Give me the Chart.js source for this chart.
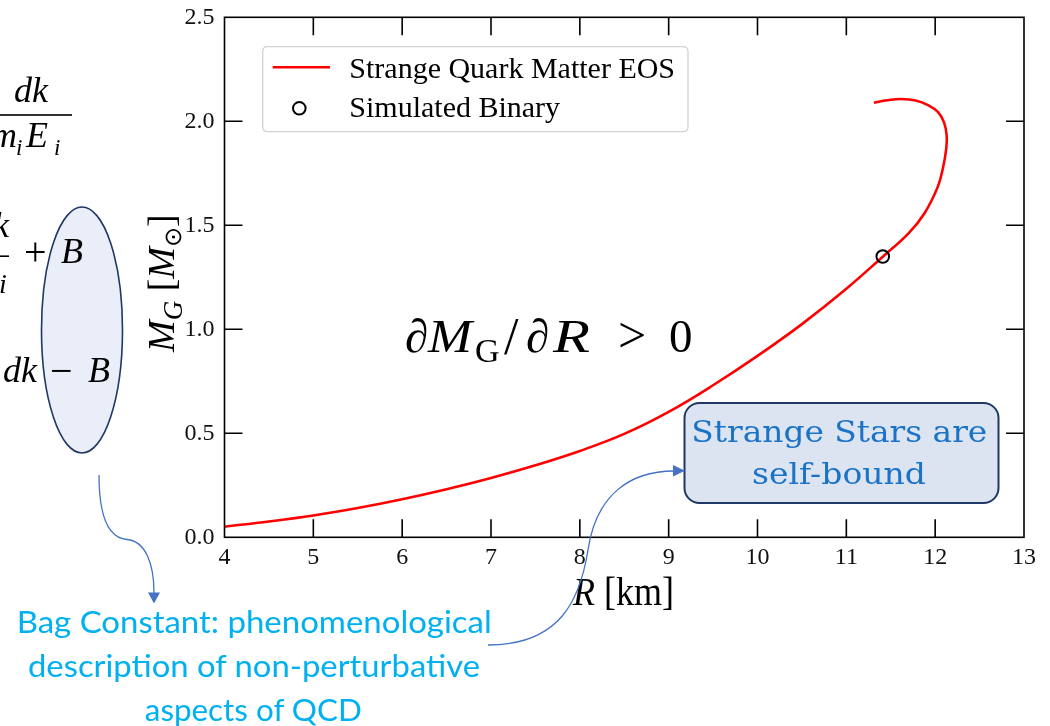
<!DOCTYPE html>
<html>
<head>
<meta charset="utf-8">
<title>Strange star mass-radius relation</title>
<script src="https://cdn.jsdelivr.net/npm/chart.js@4.4.1/dist/chart.umd.min.js"></script>
<style>
  html, body { margin: 0; padding: 0; background: #ffffff; }
  #wrap { position: relative; width: 1050px; height: 726px; overflow: hidden; background: #ffffff; }
  #chart { position: absolute; left: 0; top: 0; }
  #notes { position: absolute; left: 0; top: 0; }
</style>
</head>
<body>
<div id="wrap">
  <canvas id="chart" width="1050" height="726"></canvas>
  <svg id="notes" width="1050" height="726" xmlns="http://www.w3.org/2000/svg">
    <!-- highlighted bag-constant terms -->
    <ellipse cx="82" cy="330" rx="40.5" ry="123" fill="#e9eef8" stroke="#1f3864" stroke-width="1.6"/>

    <!-- equation fragments -->
    <g font-family="Liberation Serif, DejaVu Serif, serif" font-size="36" fill="#000">
      <text x="14" y="102" font-style="italic">dk</text>
      <text x="-9" y="147" font-style="italic">m</text>
      <text x="16" y="155" font-style="italic" font-size="23">i</text>
      <text x="26" y="147" font-style="italic">E</text>
      <text x="54" y="155" font-style="italic" font-size="23">i</text>

      <text x="-7" y="237" font-style="italic">k</text>
      <text x="-1" y="293" font-style="italic" font-size="28">i</text>
      <text x="24" y="265" font-size="40">+</text>
      <text x="61" y="263" font-style="italic">B</text>

      <text x="3" y="382" font-style="italic">dk</text>
      <text x="50" y="384" font-size="40">&#8722;</text>
      <text x="88" y="382" font-style="italic">B</text>
    </g>
    <rect x="0" y="114.2" width="72" height="1.6" fill="#000"/>
    <rect x="0" y="255.4" width="9" height="1.6" fill="#000"/>

    <!-- axis titles -->
    <text x="573" y="605" font-family="Liberation Serif, serif" font-size="39" fill="#000" textLength="101" lengthAdjust="spacingAndGlyphs"><tspan font-style="italic">R</tspan> [km]</text>
    <text transform="translate(174,352) rotate(-90)" font-family="Liberation Serif, serif" font-size="38" fill="#000"><tspan font-style="italic">M</tspan><tspan font-style="italic" font-size="27" dy="8">G</tspan><tspan dy="-8"> [</tspan><tspan font-style="italic">M</tspan><tspan font-size="24" dy="7">&#8857;</tspan><tspan dy="-7">]</tspan></text>

    <!-- stability criterion -->
    <g font-family="Liberation Serif, serif" font-size="47" fill="#000">
      <text x="405" y="351.7">&#8706;</text>
      <text x="428" y="351.7" font-style="italic" textLength="44" lengthAdjust="spacingAndGlyphs">M</text>
      <text x="475" y="361.7" font-size="34">G</text>
      <text x="504" y="354" font-size="52">/</text>
      <text x="526" y="351.7">&#8706;</text>
      <text x="553" y="351.7" font-style="italic" textLength="37" lengthAdjust="spacingAndGlyphs">R</text>
      <text x="618" y="352" font-size="50">&gt;</text>
      <text x="669" y="351.7" font-size="47">0</text>
    </g>

    <!-- callout box -->
    <rect x="684.5" y="403" width="314" height="100" rx="15" ry="15" fill="#dce4f2" stroke="#1f3864" stroke-width="2"/>
    <g font-family="DejaVu Serif, serif" font-size="30" fill="#1b73c6" text-anchor="middle">
      <text x="839.3" y="441.7" textLength="296" lengthAdjust="spacingAndGlyphs">Strange Stars are</text>
      <text x="839" y="484" textLength="174" lengthAdjust="spacingAndGlyphs">self-bound</text>
    </g>

    <!-- bag constant note -->
    <g font-family="Lato, Open Sans, sans-serif" font-size="30" fill="#00b0f0" text-anchor="middle">
      <text x="254.2" y="633" textLength="475" lengthAdjust="spacingAndGlyphs">Bag Constant: phenomenological</text>
      <text x="254" y="677" textLength="452" lengthAdjust="spacingAndGlyphs">description of non-perturbative</text>
      <text x="253.3" y="720.5" textLength="217" lengthAdjust="spacingAndGlyphs">aspects of QCD</text>
    </g>

    <!-- connector arrows -->
    <path d="M99,475 C99,515 108,538 127,539.5 C146,541 154,565 154,593" fill="none" stroke="#4472c4" stroke-width="1.3"/>
    <polygon points="148,592.5 160,592.5 154,603.5" fill="#4472c4"/>
    <path d="M488,645 C560,645 580,600 588,550 C596,495 630,471 674,471" fill="none" stroke="#4472c4" stroke-width="1.3"/>
    <polygon points="673,465 673,476.5 685,470.7" fill="#4472c4"/>
  </svg>
</div>

<script>
// Mass-radius sequence for the strange quark matter equation of state
const radiusKm = [4.0, 4.5, 5.0, 5.5, 6.0, 6.5, 7.0, 7.5, 8.0, 8.5, 9.0, 9.5, 10.0, 10.5, 11.0,
                  11.41, 11.7, 11.88, 12.03, 12.09, 12.125, 12.13, 12.10, 12.03, 11.92, 11.78, 11.62, 11.46, 11.31];
const massSolar = [0.051, 0.076, 0.105, 0.141, 0.183, 0.231, 0.285, 0.346, 0.415, 0.497, 0.603, 0.731, 0.872, 1.025, 1.195,
                   1.349, 1.461, 1.558, 1.686, 1.780, 1.870, 1.930, 1.995, 2.045, 2.078, 2.100, 2.107, 2.101, 2.089];

// Simulated binary component
const binaryRadiusKm = [11.41];
const binaryMassSolar = [1.35];

// Axis ranges and tick spacing
const xRange = [4, 13];
const yRange = [0, 2.5];
const xStep = 1;
const yStep = 0.5;

const seriesLabels = ['Strange Quark Matter EOS', 'Simulated Binary'];

const eosPoints = radiusKm.map((r, i) => ({ x: r, y: massSolar[i] }));
const binaryPoints = binaryRadiusKm.map((r, i) => ({ x: r, y: binaryMassSolar[i] }));

const SERIF = '"Liberation Serif", "DejaVu Serif", serif';

// Closed frame with inward-pointing ticks on all four sides
const frameTicks = {
  id: 'frameTicks',
  afterDatasetsDraw(chart) {
    const { ctx, chartArea: a, scales: { x, y } } = chart;
    const len = 18;
    ctx.save();
    ctx.strokeStyle = '#000';
    ctx.lineWidth = 1.6;
    ctx.strokeRect(a.left, a.top, a.right - a.left, a.bottom - a.top);
    ctx.beginPath();
    x.ticks.forEach(t => {
      const px = x.getPixelForValue(t.value);
      if (px <= a.left + 1 || px >= a.right - 1) return;
      ctx.moveTo(px, a.bottom); ctx.lineTo(px, a.bottom - len);
      ctx.moveTo(px, a.top); ctx.lineTo(px, a.top + len);
    });
    y.ticks.forEach(t => {
      const py = y.getPixelForValue(t.value);
      if (py <= a.top + 1 || py >= a.bottom - 1) return;
      ctx.moveTo(a.left, py); ctx.lineTo(a.left + len, py);
      ctx.moveTo(a.right, py); ctx.lineTo(a.right - len, py);
    });
    ctx.stroke();
    ctx.restore();
  }
};

// Legend drawn inside the upper-left of the plot area
const insetLegend = {
  id: 'insetLegend',
  afterDraw(chart) {
    const { ctx, chartArea: a } = chart;
    const ds = chart.data.datasets;
    const bx = a.left + 38.2, by = a.top + 29.4, bw = 425.3, bh = 85, r = 5;
    ctx.save();
    ctx.beginPath();
    ctx.moveTo(bx + r, by);
    ctx.lineTo(bx + bw - r, by);
    ctx.quadraticCurveTo(bx + bw, by, bx + bw, by + r);
    ctx.lineTo(bx + bw, by + bh - r);
    ctx.quadraticCurveTo(bx + bw, by + bh, bx + bw - r, by + bh);
    ctx.lineTo(bx + r, by + bh);
    ctx.quadraticCurveTo(bx, by + bh, bx, by + bh - r);
    ctx.lineTo(bx, by + r);
    ctx.quadraticCurveTo(bx, by, bx + r, by);
    ctx.closePath();
    ctx.fillStyle = 'rgba(255,255,255,0.8)';
    ctx.fill();
    ctx.strokeStyle = '#d2d2d2';
    ctx.lineWidth = 1.3;
    ctx.stroke();

    ctx.beginPath();
    ctx.strokeStyle = ds[0].borderColor;
    ctx.lineWidth = ds[0].borderWidth;
    ctx.moveTo(bx + 10, by + 20.5);
    ctx.lineTo(bx + 67.3, by + 20.5);
    ctx.stroke();

    ctx.beginPath();
    ctx.strokeStyle = ds[1].pointBorderColor;
    ctx.lineWidth = ds[1].pointBorderWidth;
    ctx.arc(bx + 36.6, by + 61.6, ds[1].pointRadius, 0, Math.PI * 2);
    ctx.stroke();

    ctx.fillStyle = '#000';
    ctx.font = '30px ' + SERIF;
    ctx.textBaseline = 'alphabetic';
    ctx.textAlign = 'left';
    ctx.fillText(ds[0].label, bx + 86.6, by + 31.6);
    ctx.fillText(ds[1].label, bx + 86.6, by + 70);
    ctx.restore();
  }
};

new Chart(document.getElementById('chart'), {
  type: 'scatter',
  data: {
    datasets: [
      {
        label: seriesLabels[0],
        data: eosPoints,
        showLine: true,
        borderColor: '#ff0000',
        borderWidth: 2.6,
        pointRadius: 0,
        tension: 0.4,
        fill: false,
        order: 2
      },
      {
        label: seriesLabels[1],
        data: binaryPoints,
        showLine: false,
        pointRadius: 6.3,
        pointBorderWidth: 2,
        pointBorderColor: '#000000',
        pointBackgroundColor: 'rgba(0,0,0,0)',
        borderColor: '#000000',
        order: 1
      }
    ]
  },
  options: {
    responsive: false,
    animation: false,
    devicePixelRatio: 1,
    layout: { padding: { left: 0, top: 17.3, right: 26, bottom: 0 } },
    plugins: { legend: { display: false }, tooltip: { enabled: false } },
    scales: {
      x: {
        type: 'linear',
        min: xRange[0], max: xRange[1],
        grid: { display: false, drawTicks: false },
        border: { display: false },
        ticks: {
          stepSize: xStep,
          padding: 6,
          color: '#111',
          font: { family: SERIF, size: 24 },
          maxRotation: 0,
          callback: v => String(v)
        },
        afterFit(scale) {
          scale.height = 188.7;
          scale.paddingLeft = 0; scale.paddingRight = 0;
        }
      },
      y: {
        type: 'linear',
        min: yRange[0], max: yRange[1],
        grid: { display: false, drawTicks: false },
        border: { display: false },
        ticks: {
          stepSize: yStep,
          padding: 10,
          color: '#111',
          font: { family: SERIF, size: 24 },
          callback: v => Number(v).toFixed(1)
        },
        afterFit(scale) {
          scale.width = 224.5;
          scale.paddingTop = 0; scale.paddingBottom = 0;
        }
      }
    }
  },
  plugins: [frameTicks, insetLegend]
});
</script>
</body>
</html>
